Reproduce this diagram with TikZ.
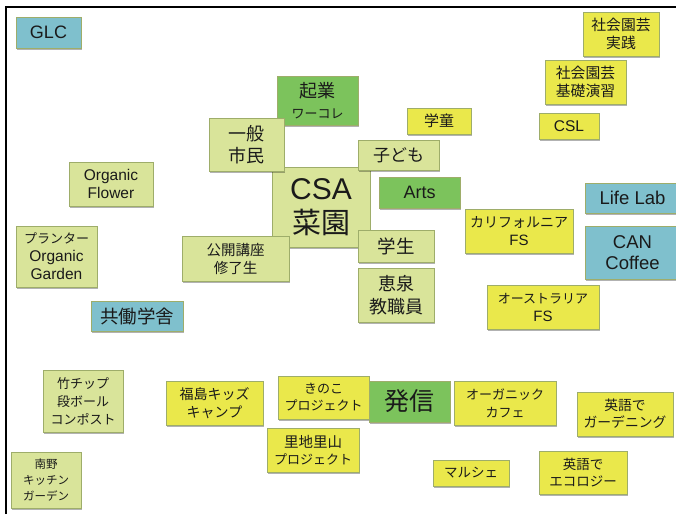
\documentclass[tikz,border=0pt]{standalone}
\usepackage{fontspec}
\setmainfont{Liberation Sans}
\newfontfamily\jp{Noto Sans CJK JP}
\newfontfamily\lat{Liberation Sans}
\usetikzlibrary{shadows}
\definecolor{lgfill}{HTML}{D9E49A}
\definecolor{yfill}{HTML}{EAE84B}
\definecolor{dgfill}{HTML}{7CC35C}
\definecolor{bfill}{HTML}{7FC0CD}
\definecolor{edge}{HTML}{9EAD6A}
\definecolor{ink}{HTML}{1A1A1A}
\newcommand\fs[2]{\fontsize{#1}{#2}\selectfont}
\newcommand\drawcard[8]{\node[#2, anchor=north west, minimum width={(#5-#3)*1pt}, minimum height={(#6-#4)*1pt}, font={#7}] (#1) at (#3,#4) {#8};}
\tikzset{
  card/.style={draw=edge, line width=0.8pt, inner sep=0pt, outer sep=0pt, align=center, text=ink,
    drop shadow={shadow xshift=1.2pt, shadow yshift=-1.5pt, opacity=0.3, fill=black}},
  lg/.style={card, fill=lgfill},
  yl/.style={card, fill=yfill},
  dg/.style={card, fill=dgfill},
  bl/.style={card, fill=bfill},
}
\begin{document}
\begin{tikzpicture}[x=1pt, y=-1pt]
\useasboundingbox (0,0) rectangle (676,514);
\fill[white] (0,0) rectangle (676,514);
\coordinate (fa) at (6,514);
\coordinate (fb) at (6,7);
\coordinate (fc) at (676,7);
\draw[line width=2pt, black] (fa) -- (fb) -- (fc);

\drawcard{glc}{bl}{16}{17}{81}{48}{\fs{18}{20}}{GLC}
\drawcard{kigyo}{dg}{277}{76}{358}{125}{\jp\fs{18}{21}}{起業\\{\fs{13}{15}ワーコレ}}
\drawcard{csa}{lg}{272}{167}{370}{247}{\jp\fs{29}{34}}{{\lat\fs{30}{32}CSA}\\菜園}
\drawcard{ippan}{lg}{209}{118}{284}{171}{\jp\fs{18}{22}}{一般\\市民}
\drawcard{koukai}{lg}{182}{236}{289}{281}{\jp\fs{14.5}{18}}{公開講座\\修了生}
\drawcard{kodomo}{lg}{358}{140}{439}{170}{\jp\fs{17}{20}}{子ども}
\drawcard{arts}{dg}{379}{177}{460}{208}{\fs{18}{20}}{Arts}
\drawcard{gakusei}{lg}{358}{230}{434}{262}{\jp\fs{18.5}{20}}{学生}
\drawcard{keisen}{lg}{358}{268}{434}{322}{\jp\fs{18}{23}}{恵泉\\教職員}
\drawcard{gakudo}{yl}{407}{108}{471}{134}{\jp\fs{15}{16}}{学童}
\drawcard{jissen}{yl}{583}{12}{659}{56}{\jp\fs{14.8}{18}}{社会園芸\\実践}
\drawcard{kiso}{yl}{545}{60}{626}{104}{\jp\fs{14.8}{18}}{社会園芸\\基礎演習}
\drawcard{csl}{yl}{539}{113}{599}{139}{\fs{15.5}{17}}{CSL}
\drawcard{lifelab}{bl}{585}{183}{680}{213}{\fs{18.5}{20}}{Life Lab}
\drawcard{can}{bl}{585}{226}{680}{279}{\fs{18.5}{21}}{CAN\\Coffee}
\drawcard{calif}{yl}{465}{209}{573}{253}{\jp\fs{14}{18}}{カリフォルニア\\{\lat\fs{15}{18}FS}}
\drawcard{austr}{yl}{487}{285}{599}{329}{\jp\fs{13}{18}}{オーストラリア\\{\lat\fs{15}{18}FS}}
\drawcard{oflower}{lg}{69}{162}{153}{206}{\fs{15.5}{18}}{Organic\\Flower}
\drawcard{planter}{lg}{16}{226}{97}{287}{\fs{15.5}{18}}{{\jp\fs{13}{18}プランター}\\Organic\\Garden}
\drawcard{kyodo}{bl}{91}{301}{183}{331}{\jp\fs{18.5}{20}}{共働学舎}
\drawcard{take}{lg}{43}{370}{123}{432}{\jp\fs{13}{18}}{竹チップ\\段ボール\\コンポスト}
\drawcard{fukushima}{yl}{166}{381}{263}{425}{\jp\fs{14}{18}}{福島キッズ\\キャンプ}
\drawcard{kinoko}{yl}{278}{376}{369}{419}{\jp\fs{13}{17}}{きのこ\\プロジェクト}
\drawcard{hasshin}{dg}{369}{381}{450}{422}{\jp\fs{25}{28}}{発信}
\drawcard{satochi}{yl}{267}{428}{359}{472}{\jp\fs{13}{17}}{{\fs{14.5}{17}里地里山}\\プロジェクト}
\drawcard{cafe}{yl}{454}{381}{556}{425}{\jp\fs{13}{18}}{オーガニック\\カフェ}
\drawcard{marche}{yl}{433}{460}{509}{486}{\jp\fs{13.5}{16}}{マルシェ}
\drawcard{ecology}{yl}{539}{451}{627}{494}{\jp\fs{13.5}{17}}{英語で\\エコロジー}
\drawcard{gardening}{yl}{577}{392}{673}{436}{\jp\fs{13.8}{17}}{英語で\\ガーデニング}
\drawcard{minamino}{lg}{11}{452}{81}{508}{\jp\fs{11.5}{16}}{南野\\キッチン\\ガーデン}
\end{tikzpicture}
\end{document}
